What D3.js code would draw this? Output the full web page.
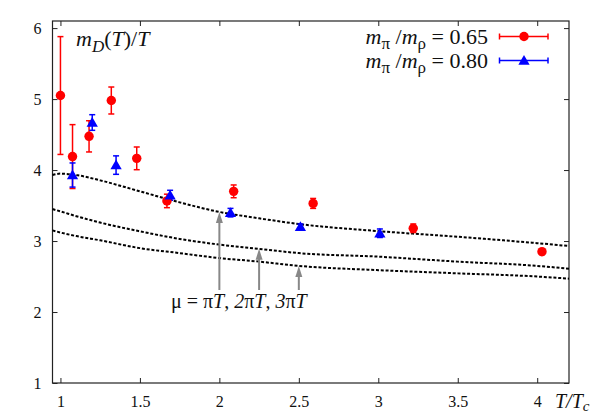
<!DOCTYPE html>
<html>
<head>
<meta charset="utf-8">
<script src="https://cdn.jsdelivr.net/npm/d3@7"></script>
<style>
  html, body { margin: 0; padding: 0; background: #fff; }
  svg text { font-family: "Liberation Serif", "Times New Roman", Times, "DejaVu Serif", serif !important; }
</style>
</head>
<body>
<svg id="chart" width="600" height="420"></svg>
<script>
// ---- data ----
const xTicks = [1, 1.5, 2, 2.5, 3, 3.5, 4];
const yTicks = [1, 2, 3, 4, 5, 6];

// m_pi/m_rho = 0.65 (red circles): T/Tc, value, error
const redT   = [1.00, 1.076, 1.18, 1.32, 1.48, 1.67, 2.09, 2.59, 3.22, 4.03];
const redV   = [5.05, 4.19, 4.475, 4.98, 4.165, 3.565, 3.70, 3.53, 3.18, 2.85];
const redE   = [0.83, 0.45, 0.22, 0.19, 0.16, 0.095, 0.09, 0.07, 0.06, 0.04];

// m_pi/m_rho = 0.80 (blue triangles)
const blueT  = [1.076, 1.20, 1.35, 1.69, 2.07, 2.51, 3.01];
const blueV  = [3.93, 4.67, 4.07, 3.645, 3.40, 3.20, 3.11];
const blueE  = [0.17, 0.11, 0.13, 0.07, 0.06, 0.04, 0.06];

// dashed curves mu = pi T, 2 pi T, 3 pi T
const curveT  = [0.95, 1.0, 1.1, 1.25, 1.5, 1.75, 2.0, 2.25, 2.5, 3.0, 3.5, 4.0, 4.2];
const curve1V = [3.93, 3.95, 3.93, 3.855, 3.70, 3.545, 3.41, 3.32, 3.24, 3.14, 3.06, 2.97, 2.93];
const curve2V = [3.45, 3.418, 3.35, 3.26, 3.137, 3.03, 2.95, 2.89, 2.83, 2.78, 2.71, 2.65, 2.61];
const curve3V = [3.15, 3.12, 3.07, 3.01, 2.90, 2.83, 2.76, 2.71, 2.65, 2.59, 2.545, 2.50, 2.47];

// arrows pointing to the curves
const arrowT    = [2.0, 2.25, 2.5];
const arrowTip  = [3.41, 2.89, 2.65];
const arrowBase = 2.31;

// ---- layout ----
const FONT = '"Liberation Serif", "Times New Roman", Times, "DejaVu Serif", serif';
const svg = d3.select("#chart");
const x = d3.scaleLinear().domain([0.95, 4.2]).range([52.5, 569]);
const y = d3.scaleLinear().domain([1, 6.1]).range([383, 21]);

const frameColor = "#222";

// frame
svg.append("rect")
  .attr("x", x(0.95)).attr("y", y(6.1))
  .attr("width", x(4.2) - x(0.95)).attr("height", y(1) - y(6.1))
  .attr("fill", "none").attr("stroke", frameColor).attr("stroke-width", 1.2);

function styleAxis(g) {
  g.attr("font-family", FONT).attr("font-size", 16);
  g.select(".domain").remove();
  g.selectAll(".tick line").attr("stroke", frameColor).attr("stroke-width", 1);
  g.selectAll(".tick text").attr("fill", "#111");
}

svg.append("g").attr("transform", `translate(0,${y(1)})`)
  .call(d3.axisBottom(x).tickValues(xTicks).tickSize(-5).tickPadding(13).tickFormat(d3.format("")))
  .call(styleAxis);
svg.append("g").attr("transform", `translate(0,${y(6.1)})`)
  .call(d3.axisTop(x).tickValues(xTicks).tickSize(-5).tickFormat(""))
  .call(styleAxis);
svg.append("g").attr("transform", `translate(${x(0.95)},0)`)
  .call(d3.axisLeft(y).tickValues(yTicks).tickSize(-5).tickPadding(11).tickFormat(d3.format("d")))
  .call(styleAxis);
svg.append("g").attr("transform", `translate(${x(4.2)},0)`)
  .call(d3.axisRight(y).tickValues(yTicks).tickSize(-5).tickFormat(""))
  .call(styleAxis);

// dashed curves
const line = d3.line().x(d => x(d[0])).y(d => y(d[1])).curve(d3.curveMonotoneX);
[curve1V, curve2V, curve3V].forEach(vals => {
  svg.append("path")
    .datum(curveT.map((t, i) => [t, vals[i]]))
    .attr("d", line)
    .attr("fill", "none").attr("stroke", "#000")
    .attr("stroke-width", 2).attr("stroke-dasharray", "3,1.8");
});

// arrows
const arrowColor = "#888";
arrowT.forEach((t, i) => {
  const px = x(t), yTip = y(arrowTip[i]), yBase = y(arrowBase);
  svg.append("line").attr("x1", px).attr("x2", px)
    .attr("y1", yBase).attr("y2", yTip + 8)
    .attr("stroke", arrowColor).attr("stroke-width", 2);
  svg.append("path")
    .attr("d", `M${px},${yTip} L${px - 3.5},${yTip + 11} L${px + 3.5},${yTip + 11} Z`)
    .attr("fill", arrowColor);
});

// label for arrows
const lab = svg.append("text").attr("x", 171).attr("y", 308)
  .attr("font-family", FONT).attr("font-size", 20).attr("fill", "#111");
lab.append("tspan").text("μ = π");
lab.append("tspan").attr("font-style", "italic").text("T");
lab.append("tspan").text(", ");
lab.append("tspan").attr("font-style", "italic").text("2");
lab.append("tspan").text("π");
lab.append("tspan").attr("font-style", "italic").text("T");
lab.append("tspan").text(", ");
lab.append("tspan").attr("font-style", "italic").text("3");
lab.append("tspan").text("π");
lab.append("tspan").attr("font-style", "italic").text("T");

// data series
const red = "#ff0000", blue = "#0000ff";
function errorBars(ts, vs, es, color) {
  const g = svg.append("g").attr("stroke", color).attr("stroke-width", 1.5);
  ts.forEach((t, i) => {
    const px = x(t), y0 = y(vs[i] - es[i]), y1 = y(vs[i] + es[i]);
    g.append("line").attr("x1", px).attr("x2", px).attr("y1", y0).attr("y2", y1);
    g.append("line").attr("x1", px - 3).attr("x2", px + 3).attr("y1", y0).attr("y2", y0);
    g.append("line").attr("x1", px - 3).attr("x2", px + 3).attr("y1", y1).attr("y2", y1);
  });
}
errorBars(redT, redV, redE, red);
errorBars(blueT, blueV, blueE, blue);

const circleSym = d3.symbol().type(d3.symbolCircle).size(70);
const triSym = d3.symbol().type(d3.symbolTriangle).size(55);
svg.append("g").selectAll("path").data(redT).join("path")
  .attr("transform", (d, i) => `translate(${x(d)},${y(redV[i])})`)
  .attr("d", circleSym).attr("fill", red);
svg.append("g").selectAll("path").data(blueT).join("path")
  .attr("transform", (d, i) => `translate(${x(d)},${y(blueV[i]) + 1})`)
  .attr("d", triSym).attr("fill", blue);

// title m_D(T)/T
const title = svg.append("text").attr("x", 76).attr("y", 46)
  .attr("font-family", FONT).attr("font-size", 22).attr("fill", "#111");
title.append("tspan").attr("font-style", "italic").text("m");
title.append("tspan").attr("font-style", "italic").attr("font-size", 17).attr("dy", 6).text("D");
title.append("tspan").attr("dy", -6).text("(");
title.append("tspan").attr("font-style", "italic").text("T");
title.append("tspan").text(")/");
title.append("tspan").attr("font-style", "italic").text("T");

// x axis label T/Tc
const xl = svg.append("text").attr("x", 555).attr("y", 408)
  .attr("font-family", FONT).attr("font-size", 20).attr("fill", "#111").attr("font-style", "italic");
xl.append("tspan").text("T/T");
xl.append("tspan").attr("font-size", 15).attr("dy", 3).text("c");

// legend
const legendLabels = ["0.65", "0.80"];
const legendColors = [red, blue];
const legendY = [36.5, 60.5];
legendLabels.forEach((lbl, i) => {
  const t = svg.append("text").attr("x", 488).attr("y", legendY[i] + 7)
    .attr("text-anchor", "end").attr("font-family", FONT).attr("font-size", 22).attr("fill", "#111");
  t.append("tspan").attr("font-style", "italic").text("m");
  t.append("tspan").attr("font-size", 17).attr("dy", 5).text("π");
  t.append("tspan").attr("dy", -5).text(" /");
  t.append("tspan").attr("font-style", "italic").text("m");
  t.append("tspan").attr("font-size", 17).attr("dy", 5).text("ρ");
  t.append("tspan").attr("dy", -5).text(" = " + lbl);

  const c = legendColors[i], ly = legendY[i];
  const g = svg.append("g").attr("stroke", c).attr("stroke-width", 1.5);
  g.append("line").attr("x1", 499.5).attr("x2", 548).attr("y1", ly).attr("y2", ly);
  g.append("line").attr("x1", 499.5).attr("x2", 499.5).attr("y1", ly - 3).attr("y2", ly + 3);
  g.append("line").attr("x1", 548).attr("x2", 548).attr("y1", ly - 3).attr("y2", ly + 3);
  svg.append("path").attr("transform", `translate(524,${ly + (i === 1 ? 1 : 0)})`)
    .attr("d", i === 0 ? circleSym : triSym).attr("fill", c);
});
</script>
</body>
</html>
